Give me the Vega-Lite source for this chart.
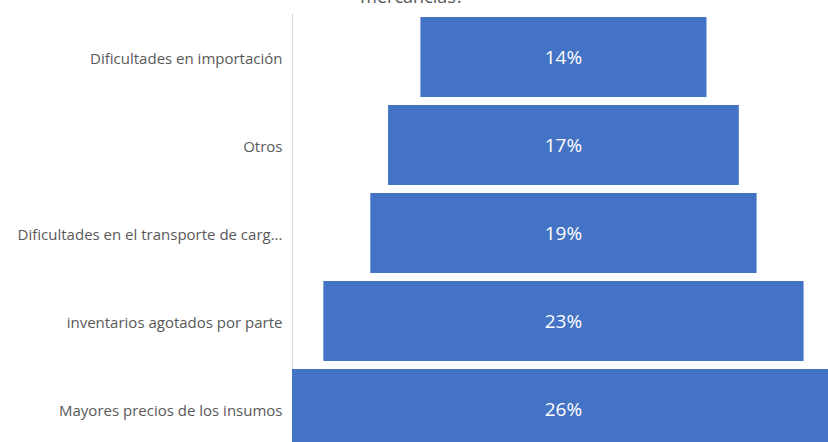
{
  "$schema": "https://vega.github.io/schema/vega-lite/v6.json",
  "autosize": {"type": "none"},
  "width": 536,
  "height": 429,
  "padding": {"left": 292, "top": 13, "right": 0, "bottom": 0},
  "background": "white",
  "title": {
    "text": "mercancías?",
    "anchor": "middle",
    "frame": "group",
    "dx": -148,
    "offset": 0,
    "dy": 8,
    "baseline": "alphabetic",
    "font": "Open Sans",
    "fontSize": 18,
    "fontWeight": "normal",
    "color": "#595959"
  },
  "config": {
    "view": {"stroke": null},
    "font": "Open Sans"
  },
  "data": {
    "values": [
      {"categoria": "Dificultades en importación", "valor": 0.137},
      {"categoria": "Otros", "valor": 0.168},
      {"categoria": "Dificultades en el transporte de carg...", "valor": 0.185},
      {"categoria": "inventarios agotados por parte", "valor": 0.23},
      {"categoria": "Mayores precios de los insumos", "valor": 0.26}
    ]
  },
  "encoding": {
    "y": {
      "field": "categoria",
      "type": "nominal",
      "sort": {"field": "valor", "order": "ascending"},
      "scale": {"range": [0, 440], "paddingInner": 0.09, "paddingOuter": 0.045},
      "axis": {
        "title": null,
        "ticks": false,
        "domainColor": "#d9d9d9",
        "labelColor": "#595959",
        "labelFontSize": 15,
        "labelFont": "Open Sans",
        "labelPadding": 10,
        "labelLimit": 290,
        "labelOffset": 2
      }
    }
  },
  "layer": [
    {
      "mark": {"type": "bar", "color": "#4472C4", "clip": true},
      "encoding": {
        "x": {
          "field": "valor",
          "type": "quantitative",
          "stack": "center",
          "scale": {"domain": [0, 0.2567], "nice": false, "zero": false},
          "axis": null
        }
      }
    },
    {
      "mark": {"type": "text", "color": "white", "fontSize": 19, "font": "Open Sans", "dy": 1},
      "encoding": {
        "x": {"datum": 0.13, "type": "quantitative"},
        "text": {"field": "valor", "type": "quantitative", "format": ".0%"}
      }
    }
  ]
}
